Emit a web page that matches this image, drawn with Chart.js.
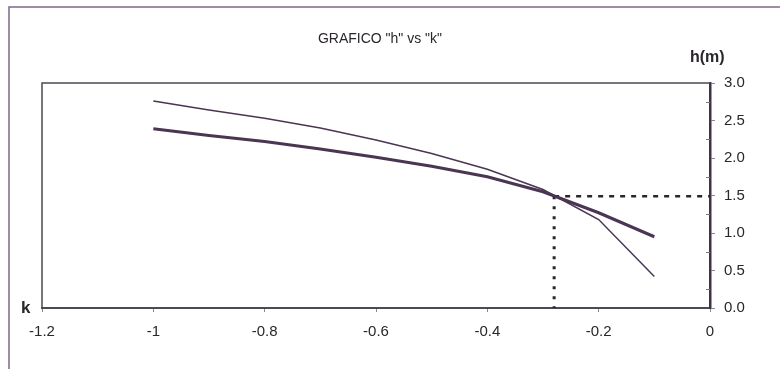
<!DOCTYPE html>
<html>
<head>
<meta charset="utf-8">
<script src="https://cdn.jsdelivr.net/npm/chart.js@4/dist/chart.umd.min.js"></script>
<style>
  html, body { margin: 0; padding: 0; background: #fff; }
  #wrap { width: 780px; height: 369px; }
</style>
</head>
<body>
<div id="wrap"><canvas id="hkChart" width="780" height="369"></canvas></div>
<script>
// k values (x) and the two h curves
const kValues = [-1, -0.9, -0.8, -0.7, -0.6, -0.5, -0.4, -0.3, -0.2, -0.1];
const hUpper = [2.76, 2.64, 2.53, 2.40, 2.24, 2.06, 1.85, 1.58, 1.18, 0.42];
const hLower = [2.39, 2.30, 2.22, 2.12, 2.01, 1.89, 1.75, 1.55, 1.27, 0.95];

// operating point marked with the dashed lines
const kPoint = [-0.28];
const hPoint = [1.49];

const xTicks = [-1.2, -1, -0.8, -0.6, -0.4, -0.2, 0];
const yTicks = [0, 0.5, 1, 1.5, 2, 2.5, 3];
const yMinorTicks = [0.25, 0.75, 1.25, 1.75, 2.25, 2.75];

const lineColor = '#4a3552';
const axisColor = '#3d3342';
const textColor = '#2a262c';
const fontFamily = '"Liberation Sans", Arial, sans-serif';

function toPoints(xs, ys) {
    return xs.map((x, i) => ({ x: x, y: ys[i] }));
}

// frame, plot box, minor ticks and the free texts
const decorations = {
    id: 'decorations',
    beforeDatasetsDraw(chart) {
        const ctx = chart.ctx;
        const a = chart.chartArea;
        ctx.save();
        // top and left edges of the plot box
        ctx.strokeStyle = '#4f4852';
        ctx.lineWidth = 1.5;
        ctx.beginPath();
        ctx.moveTo(a.left, a.bottom);
        ctx.lineTo(a.left, a.top);
        ctx.lineTo(a.right, a.top);
        ctx.stroke();
        ctx.restore();
    },
    afterDraw(chart) {
        const ctx = chart.ctx;
        const a = chart.chartArea;
        const yScale = chart.scales.y;
        ctx.save();
        // outer frame (top and left only)
        ctx.strokeStyle = '#7e6887';
        ctx.lineWidth = 1.5;
        ctx.beginPath();
        ctx.moveTo(9, 369);
        ctx.lineTo(9, 7);
        ctx.lineTo(780, 7);
        ctx.stroke();

        // minor ticks on the right axis, inside
        ctx.strokeStyle = '#777';
        ctx.lineWidth = 1;
        yMinorTicks.forEach(v => {
            const py = Math.round(yScale.getPixelForValue(v)) + 0.5;
            ctx.beginPath();
            ctx.moveTo(a.right - 4, py);
            ctx.lineTo(a.right, py);
            ctx.stroke();
        });

        ctx.fillStyle = textColor;
        ctx.textBaseline = 'middle';
        ctx.font = '14px ' + fontFamily;
        ctx.textAlign = 'center';
        ctx.fillText('GRAFICO "h" vs "k"', 380, 39);

        ctx.font = 'bold 16px ' + fontFamily;
        ctx.textAlign = 'left';
        ctx.fillText('h(m)', 690, 58);
        ctx.font = 'bold 17px ' + fontFamily;
        ctx.fillText('k', 21, 308);
        ctx.restore();
    }
};

const chart = new Chart(document.getElementById('hkChart'), {
    type: 'scatter',
    data: {
        datasets: [
            {
                label: 'h superior',
                data: toPoints(kValues, hUpper),
                showLine: true,
                borderColor: lineColor,
                borderWidth: 1.5,
                pointRadius: 0,
                tension: 0
            },
            {
                label: 'h inferior',
                data: toPoints(kValues, hLower),
                showLine: true,
                borderColor: lineColor,
                borderWidth: 3,
                pointRadius: 0,
                tension: 0
            },
            {
                label: 'horizontal',
                data: [{ x: kPoint[0], y: hPoint[0] }, { x: 0, y: hPoint[0] }],
                showLine: true,
                borderColor: textColor,
                borderWidth: 2.5,
                borderDash: [5, 6],
                pointRadius: 0
            },
            {
                label: 'vertical',
                data: [{ x: kPoint[0], y: hPoint[0] }, { x: kPoint[0], y: 0 }],
                showLine: true,
                borderColor: textColor,
                borderWidth: 3,
                borderDash: [3, 7],
                pointRadius: 0
            }
        ]
    },
    options: {
        responsive: false,
        animation: false,
        layout: { padding: { left: 42, top: 83, right: 0, bottom: 0 } },
        plugins: {
            legend: { display: false },
            tooltip: { enabled: false }
        },
        scales: {
            x: {
                type: 'linear',
                min: -1.2,
                max: 0,
                afterFit: s => { s.height = 61; },
                afterBuildTicks: s => { s.ticks = xTicks.map(v => ({ value: v })); },
                grid: { drawOnChartArea: false, tickLength: 4, color: '#888' },
                border: { color: '#4f4852', width: 2 },
                ticks: {
                    color: textColor,
                    padding: 11,
                    font: { family: fontFamily, size: 15 },
                    callback: v => String(Math.round(v * 10) / 10)
                }
            },
            y: {
                type: 'linear',
                position: 'right',
                min: 0,
                max: 3,
                afterFit: s => { s.width = 70; },
                afterBuildTicks: s => { s.ticks = yTicks.map(v => ({ value: v })); },
                grid: { drawOnChartArea: false, tickLength: 5, color: '#888' },
                border: { color: axisColor, width: 2.5 },
                ticks: {
                    color: textColor,
                    padding: 9,
                    font: { family: fontFamily, size: 15 },
                    callback: v => Number(v).toFixed(1)
                }
            }
        }
    },
    plugins: [decorations]
});
</script>
</body>
</html>
